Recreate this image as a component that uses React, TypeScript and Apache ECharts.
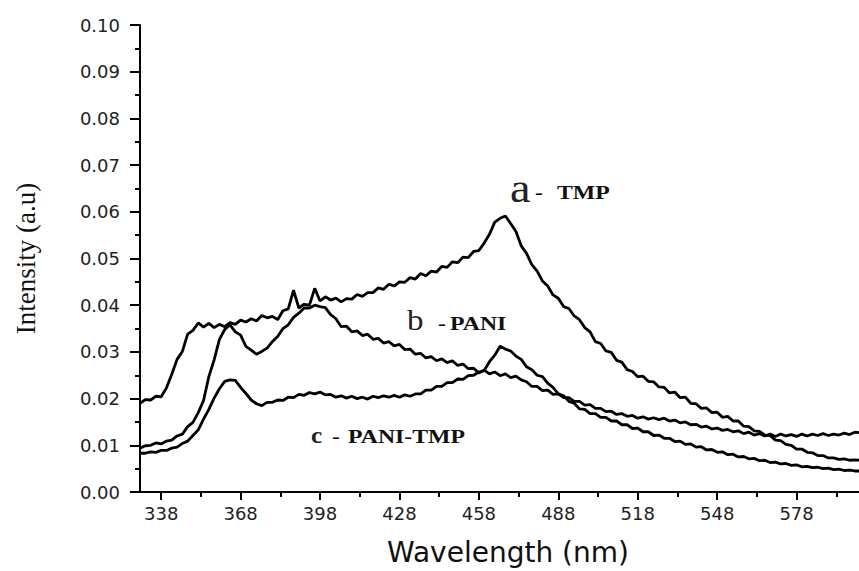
import React, { useEffect, useRef } from "react";
import * as echarts from "echarts";

// Wavelength sampling (nm): 330, 332, ..., 602
const WL_START = 330;
const WL_STEP = 2;

// a - TMP
const tmpValues = [
  0.0190, 0.0198, 0.0197, 0.0205, 0.0204, 0.0223, 0.0252, 0.0284, 0.0301, 0.0338,
  0.0346, 0.0362, 0.0353, 0.0361, 0.0352, 0.0359, 0.0354, 0.0363, 0.0359, 0.0368,
  0.0364, 0.0371, 0.0366, 0.0378, 0.0373, 0.0376, 0.0369, 0.0388, 0.0392, 0.0432,
  0.0394, 0.0402, 0.0400, 0.0436, 0.0409, 0.0418, 0.0411, 0.0415, 0.0407, 0.0414,
  0.0413, 0.0423, 0.0419, 0.0427, 0.0427, 0.0437, 0.0434, 0.0445, 0.0441, 0.0450,
  0.0449, 0.0459, 0.0456, 0.0468, 0.0463, 0.0473, 0.0471, 0.0483, 0.0481, 0.0493,
  0.0491, 0.0503, 0.0502, 0.0515, 0.0517, 0.0533, 0.0552, 0.0578, 0.0586, 0.0591,
  0.0575, 0.0558, 0.0527, 0.0511, 0.0487, 0.0473, 0.0452, 0.0441, 0.0422, 0.0415,
  0.0397, 0.0393, 0.0377, 0.0369, 0.0352, 0.0343, 0.0322, 0.0318, 0.0302, 0.0299,
  0.0282, 0.0278, 0.0262, 0.0258, 0.0247, 0.0248, 0.0237, 0.0236, 0.0225, 0.0224,
  0.0212, 0.0214, 0.0202, 0.0203, 0.0190, 0.0189, 0.0179, 0.0180, 0.0170, 0.0171,
  0.0160, 0.0162, 0.0152, 0.0152, 0.0141, 0.0140, 0.0131, 0.0130, 0.0122, 0.0121,
  0.0111, 0.0110, 0.0102, 0.0100, 0.0092, 0.0092, 0.0085, 0.0084, 0.0078, 0.0078,
  0.0073, 0.0073, 0.0070, 0.0071, 0.0068, 0.0069, 0.0068,
];

// b - PANI
const paniValues = [
  0.0094, 0.0099, 0.0100, 0.0105, 0.0103, 0.0109, 0.0111, 0.0120, 0.0124, 0.0140,
  0.0149, 0.0170, 0.0196, 0.0247, 0.0283, 0.0327, 0.0348, 0.0358, 0.0343, 0.0336,
  0.0312, 0.0304, 0.0295, 0.0301, 0.0308, 0.0322, 0.0333, 0.0350, 0.0358, 0.0374,
  0.0383, 0.0394, 0.0394, 0.0400, 0.0397, 0.0395, 0.0380, 0.0371, 0.0354, 0.0355,
  0.0343, 0.0345, 0.0335, 0.0338, 0.0327, 0.0329, 0.0319, 0.0322, 0.0313, 0.0316,
  0.0305, 0.0306, 0.0295, 0.0297, 0.0287, 0.0290, 0.0281, 0.0285, 0.0277, 0.0281,
  0.0271, 0.0274, 0.0264, 0.0265, 0.0255, 0.0261, 0.0253, 0.0257, 0.0249, 0.0253,
  0.0245, 0.0248, 0.0240, 0.0236, 0.0226, 0.0226, 0.0217, 0.0218, 0.0209, 0.0210,
  0.0202, 0.0202, 0.0194, 0.0194, 0.0186, 0.0187, 0.0179, 0.0179, 0.0172, 0.0173,
  0.0166, 0.0168, 0.0162, 0.0164, 0.0158, 0.0161, 0.0156, 0.0159, 0.0155, 0.0158,
  0.0152, 0.0154, 0.0148, 0.0150, 0.0144, 0.0145, 0.0139, 0.0141, 0.0135, 0.0137,
  0.0132, 0.0134, 0.0129, 0.0131, 0.0125, 0.0128, 0.0122, 0.0125, 0.0120, 0.0124,
  0.0119, 0.0124, 0.0120, 0.0123, 0.0119, 0.0124, 0.0120, 0.0124, 0.0121, 0.0125,
  0.0121, 0.0124, 0.0122, 0.0126, 0.0123, 0.0128, 0.0127,
];

// c - PANI-TMP
const paniTmpValues = [
  0.0083, 0.0083, 0.0086, 0.0085, 0.0089, 0.0089, 0.0094, 0.0096, 0.0104, 0.0109,
  0.0121, 0.0133, 0.0156, 0.0177, 0.0201, 0.0221, 0.0237, 0.0240, 0.0239, 0.0224,
  0.0211, 0.0197, 0.0189, 0.0185, 0.0192, 0.0192, 0.0197, 0.0196, 0.0203, 0.0202,
  0.0209, 0.0207, 0.0213, 0.0210, 0.0214, 0.0208, 0.0209, 0.0203, 0.0206, 0.0201,
  0.0205, 0.0200, 0.0203, 0.0199, 0.0205, 0.0202, 0.0206, 0.0203, 0.0207, 0.0203,
  0.0208, 0.0205, 0.0210, 0.0210, 0.0218, 0.0218, 0.0226, 0.0226, 0.0234, 0.0234,
  0.0242, 0.0241, 0.0249, 0.0250, 0.0257, 0.0260, 0.0279, 0.0293, 0.0312, 0.0306,
  0.0302, 0.0291, 0.0284, 0.0268, 0.0262, 0.0250, 0.0247, 0.0233, 0.0224, 0.0210,
  0.0206, 0.0194, 0.0190, 0.0178, 0.0177, 0.0168, 0.0168, 0.0160, 0.0160, 0.0152,
  0.0152, 0.0144, 0.0144, 0.0136, 0.0137, 0.0129, 0.0129, 0.0121, 0.0122, 0.0115,
  0.0115, 0.0108, 0.0109, 0.0102, 0.0103, 0.0096, 0.0097, 0.0090, 0.0091, 0.0085,
  0.0086, 0.0080, 0.0081, 0.0075, 0.0076, 0.0071, 0.0072, 0.0067, 0.0068, 0.0063,
  0.0064, 0.0060, 0.0061, 0.0057, 0.0058, 0.0054, 0.0055, 0.0052, 0.0053, 0.0050,
  0.0051, 0.0048, 0.0049, 0.0046, 0.0047, 0.0045, 0.0045,
];

const X_MIN = 330;
const X_MAX = 608;
const X_MAJOR_TICKS = [338, 368, 398, 428, 458, 488, 518, 548, 578, 608];
const X_TICK_LABELS = [338, 368, 398, 428, 458, 488, 518, 548, 578];
const X_MINOR_TICKS = [353, 383, 413, 443, 473, 503, 533, 563, 593];
const Y_MIN = 0;
const Y_MAX = 0.1;
const Y_INTERVAL = 0.01;

const toPairs = (vals: number[]) =>
  vals.map((v, i) => [WL_START + i * WL_STEP, v]);

const INK = "#000";

export default function App() {
  const ref = useRef<HTMLDivElement>(null);

  useEffect(() => {
    if (!ref.current) return;
    const chart = echarts.init(ref.current, undefined, { renderer: "svg" });

    const lineSeries = (name: string, vals: number[]) => ({
      name,
      type: "line",
      xAxisIndex: 0,
      yAxisIndex: 0,
      data: toPairs(vals),
      showSymbol: false,
      symbol: "none",
      smooth: false,
      lineStyle: { color: INK, width: 2.8 },
      itemStyle: { color: INK },
      emphasis: { disabled: true },
    });

    const boldLabel = (text: string, x: number, y: number) => ({
      type: "text",
      x,
      y,
      scaleX: 1.25,
      style: {
        text,
        font: "bold 19px 'Liberation Serif', 'Times New Roman', serif",
        fill: "#111",
        textAlign: "left",
        textVerticalAlign: "middle",
        align: "left",
        verticalAlign: "middle",
      },
    });

    const bigLetter = (text: string, x: number, y: number, size: number, weight = "normal") => ({
      type: "text",
      x,
      y,
      scaleX: 1.1,
      style: {
        text,
        font: `${weight} ${size}px 'Liberation Serif', 'Times New Roman', serif`,
        fill: "#222",
        textAlign: "left",
        textVerticalAlign: "middle",
        align: "left",
        verticalAlign: "middle",
      },
    });

    const option: any = {
      animation: false,
      backgroundColor: "#fff",
      grid: { left: 140, top: 25, width: 736, height: 469, containLabel: false },
      xAxis: [
        {
          type: "value",
          min: X_MIN,
          max: X_MAX,
          position: "bottom",
          axisLine: { show: true, onZero: false, lineStyle: { color: INK, width: 2 } },
          axisTick: {
            show: true,
            inside: false,
            length: 8,
            customValues: X_MAJOR_TICKS,
            lineStyle: { color: INK, width: 2 },
          },
          axisLabel: {
            show: true,
            customValues: X_TICK_LABELS,
            margin: 12,
            color: "#222",
            fontSize: 18,
            fontFamily: "'DejaVu Sans', sans-serif",
            formatter: (v: number) => String(Math.round(v)),
          },
          splitLine: { show: false },
          name: "Wavelength (nm)",
          nameLocation: "middle",
          nameGap: 46,
          nameTextStyle: {
            color: "#111",
            fontSize: 28,
            fontFamily: "'DejaVu Sans', sans-serif",
          },
        },
        {
          type: "value",
          min: X_MIN,
          max: X_MAX,
          position: "bottom",
          axisLine: { show: false, onZero: false },
          axisTick: {
            show: true,
            inside: false,
            length: 5,
            customValues: X_MINOR_TICKS,
            lineStyle: { color: INK, width: 2 },
          },
          axisLabel: { show: false },
          splitLine: { show: false },
        },
      ],
      yAxis: {
        type: "value",
        min: Y_MIN,
        max: Y_MAX,
        interval: Y_INTERVAL,
        position: "left",
        axisLine: { show: true, onZero: false, lineStyle: { color: INK, width: 2 } },
        axisTick: { show: true, inside: false, length: 10, lineStyle: { color: INK, width: 2 } },
        minorTick: { show: true, splitNumber: 2, length: 5, lineStyle: { color: INK, width: 2 } },
        axisLabel: {
          margin: 20,
          color: "#222",
          fontSize: 18,
          fontFamily: "'DejaVu Sans', sans-serif",
          formatter: (v: number) => v.toFixed(2),
        },
        splitLine: { show: false },
        minorSplitLine: { show: false },
        name: "Intensity (a.u)",
        nameLocation: "middle",
        nameRotate: 90,
        nameGap: 101,
        nameTextStyle: {
          color: "#111",
          fontSize: 27,
          fontFamily: "'Liberation Serif', 'Times New Roman', serif",
        },
      },
      series: [
        lineSeries("TMP", tmpValues),
        lineSeries("PANI", paniValues),
        lineSeries("PANI-TMP", paniTmpValues),
      ],
      graphic: [
        bigLetter("a", 510, 188, 42),
        boldLabel("-", 535, 193),
        boldLabel("TMP", 557, 193),
        bigLetter("b", 407, 320, 30),
        boldLabel("-", 438, 324),
        boldLabel("PANI", 450, 324),
        bigLetter("c", 311, 435, 23, "bold"),
        boldLabel("-", 332, 437),
        boldLabel("PANI-TMP", 348, 437),
      ],
    };

    chart.setOption(option);
    return () => {
      chart.dispose();
    };
  }, []);

  return (
    <div
      style={{
        position: "fixed",
        left: 0,
        top: 0,
        width: 859,
        height: 571,
        overflow: "hidden",
        background: "#fff",
      }}
    >
      <div ref={ref} style={{ width: 900, height: 571 }} />
    </div>
  );
}
